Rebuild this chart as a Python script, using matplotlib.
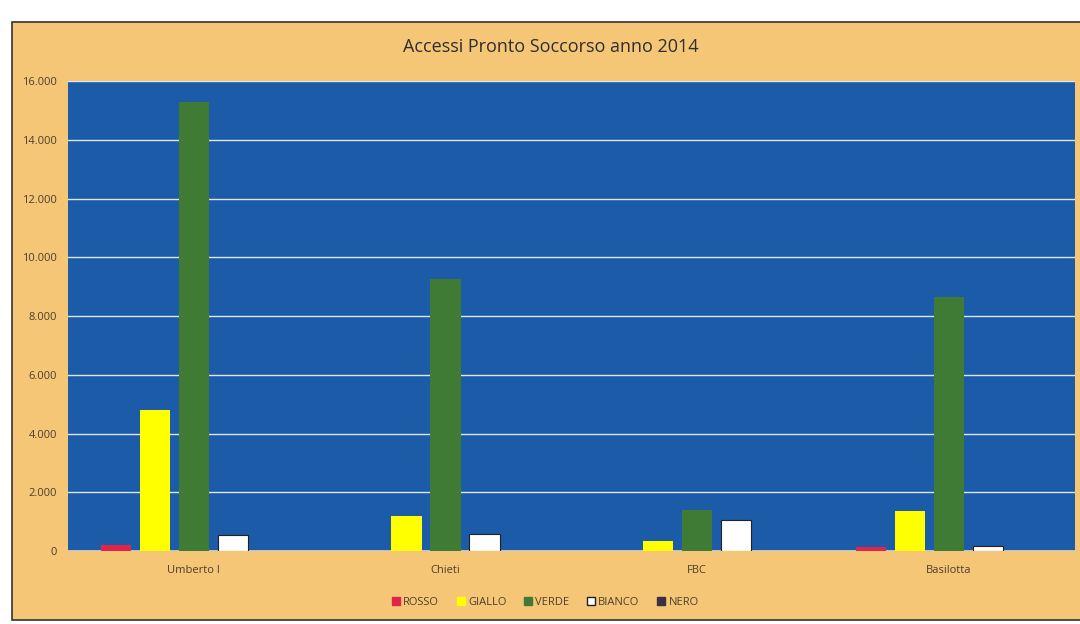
import matplotlib.pyplot as plt
import matplotlib.patches as mpatches
from matplotlib.ticker import FuncFormatter, MultipleLocator
import numpy as np

"""
Accessi Pronto Soccorso anno 2014, clustered bars per ospedale
"""

categories = ["Umberto I", "Chieti", "FBC", "Basilotta"]
series_names = ["ROSSO", "GIALLO", "VERDE", "BIANCO", "NERO"]
rosso = [200, 0, 0, 150]
giallo = [4800, 1200, 340, 1350]
verde = [15300, 9250, 1400, 8650]
bianco = [550, 580, 1050, 170]
nero = [0, 0, 0, 0]
series = [rosso, giallo, verde, bianco, nero]

COLORS = ["#E2234B", "#FFFF00", "#3F7B35", "#FFFFFF", "#3B3145"]
EDGES = ["none", "none", "none", "#222222", "none"]
ORANGE = "#F5C676"
BLUE = "#1B5BA7"
TEXT = "#4E3E2E"

fig = plt.figure(figsize=(10.8, 6.24), dpi=100, facecolor="white")
plt.rcParams['font.family'] = ['Open Sans', 'DejaVu Sans']

# orange chart area (scanned sheet), runs off the right edge
bg = mpatches.Rectangle((0.011, 0.006), 1.05, 0.958, transform=fig.transFigure,
                        facecolor=ORANGE, edgecolor="#333333", linewidth=1.2, zorder=-1)
fig.patches.append(bg)

ax = fig.add_axes([0.063, 0.117, 0.932, 0.753])
ax.set_facecolor(BLUE)
for s in ax.spines.values():
    s.set_visible(False)

x = np.arange(len(categories))
step = 0.155
width = 0.12
for i, (vals, name) in enumerate(zip(series, series_names)):
    ax.bar(x + (i - 2) * step, vals, width, color=COLORS[i], edgecolor=EDGES[i],
           linewidth=0.8, label=name, zorder=3)

ax.set_xlim(-0.5, len(categories) - 0.5)
ax.set_ylim(0, 16000)
ax.yaxis.set_major_locator(MultipleLocator(2000))
ax.yaxis.set_major_formatter(FuncFormatter(lambda v, p: "0" if v == 0 else f"{int(v):,}".replace(",", ".")))
ax.grid(axis="y", color="#DDE6F2", linewidth=1.0, zorder=1)
ax.axhline(0, color="#C9D3DF", linewidth=1.2, zorder=2)
ax.set_xticks(x)
ax.set_xticklabels(categories)
ax.tick_params(axis="both", length=0, labelsize=8, colors=TEXT, pad=8)
ax.tick_params(axis="x", pad=10)

fig.text(0.51, 0.924, "Accessi Pronto Soccorso anno 2014", ha="center", va="center",
         fontsize=13, color="#2E2E2E")

handles = [mpatches.Patch(facecolor=COLORS[i], edgecolor=EDGES[i] if EDGES[i] != "none" else COLORS[i],
                          label=series_names[i]) for i in range(5)]
fig.legend(handles=handles, loc="center", bbox_to_anchor=(0.505, 0.035), ncol=5, frameon=False,
           fontsize=8, handlelength=0.7, handleheight=0.7, handletextpad=0.3, columnspacing=1.6,
           labelcolor=TEXT)

fig.savefig("out.png", dpi=100, facecolor=fig.get_facecolor())
